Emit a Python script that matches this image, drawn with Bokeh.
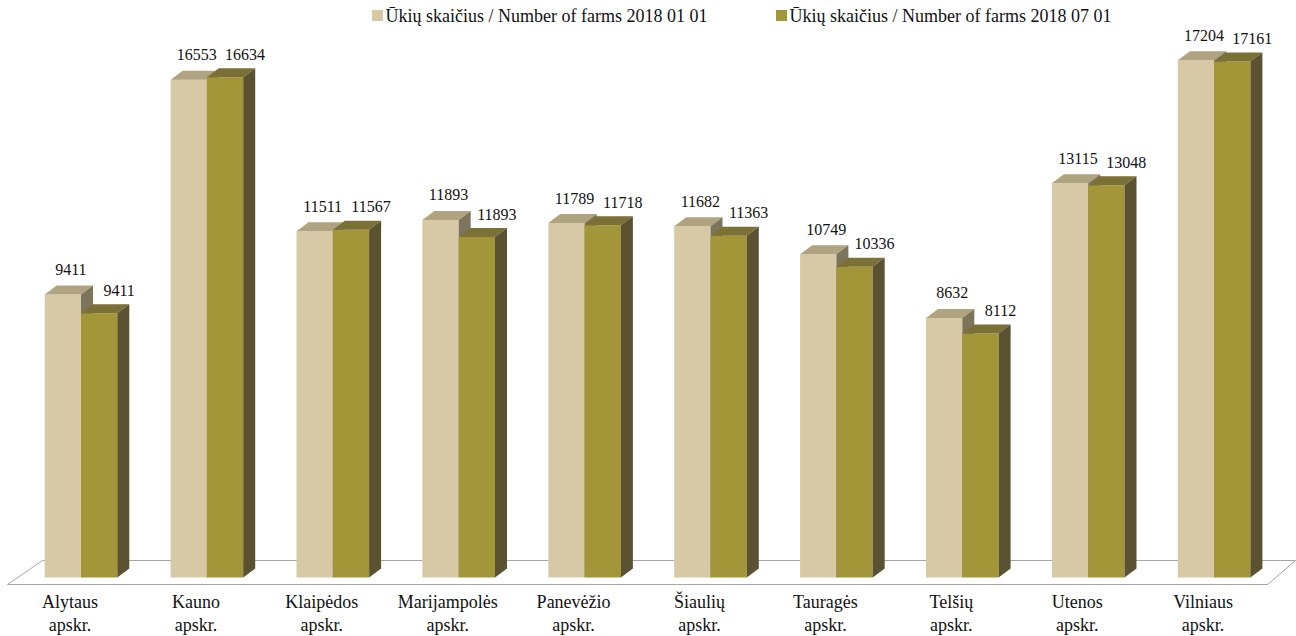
from bokeh.plotting import figure
from bokeh.models import Range1d
from bokeh.core.properties import value
from bokeh.embed import file_html
from bokeh.resources import INLINE

# ---------------- data ----------------
categories = ["Alytaus apskr.", "Kauno apskr.", "Klaipėdos apskr.", "Marijampolės apskr.",
              "Panevėžio apskr.", "Šiaulių apskr.", "Tauragės apskr.", "Telšių apskr.",
              "Utenos apskr.", "Vilniaus apskr."]
series_names = ["Ūkių skaičius / Number of farms 2018 01 01",
                "Ūkių skaičius / Number of farms 2018 07 01"]
farms_2018_01 = [9411, 16553, 11511, 11893, 11789, 11682, 10749, 8632, 13115, 17204]
farms_2018_07 = [9411, 16634, 11567, 11893, 11718, 11363, 10336, 8112, 13048, 17161]
# heights of the 07 01 bars as drawn in the picture (two differ from their labels)
bars_2018_07 = [8790, 16634, 11567, 11320, 11718, 11363, 10336, 8112, 13048, 17161]

# ---------------- styling ----------------
FONT = value("Liberation Serif")
front_cols = ["#D7C9A6", "#A29638"]
top_cols = ["#B0A380", "#7B7036"]
side_cols = ["#7C755C", "#5A5230"]

W, H = 1296, 636
ORIGIN = 0              # picture pixel of the canvas' top-left corner
PX_PER_CAT = 125.9
X0_PAGE = 80.5          # picture x of the first group centre
FLOOR_PAGE = 577.0      # picture y of value 0 (front)
PX_PER_UNIT = 0.03007   # pixels per farm


def xd(px):
    return (px - X0_PAGE) / PX_PER_CAT


def yd(py):
    return (FLOOR_PAGE - py) / PX_PER_UNIT


p = figure(width=W, height=H, output_backend="svg", toolbar_location=None,
           x_range=Range1d(xd(ORIGIN), xd(ORIGIN + W)), y_range=Range1d(yd(ORIGIN + H), yd(ORIGIN)),
           min_border=0, outline_line_color=None, background_fill_color="white",
           border_fill_color="white")
p.axis.visible = False
p.grid.visible = False

# floor (parallelogram)
floor_x = [xd(7), xd(1267), xd(1295), xd(42)]
floor_y = [yd(584), yd(584), yd(560), yd(560)]
p.patch(floor_x, floor_y, fill_color="white", line_color="#A6A6A6", line_width=1)

bw = 36.3 / PX_PER_CAT        # bar width in category units
ddx = 12 / PX_PER_CAT         # depth offset x
ddy = 9 / PX_PER_UNIT         # depth offset y (value units)

poly_x, poly_y, poly_c = [], [], []
for i in range(len(categories)):
    for s, heights in enumerate([farms_2018_01, bars_2018_07]):
        h = heights[i]
        xl = i - bw + s * bw
        xr = xl + bw
        poly_x.append([xl, xr, xr, xl]); poly_y.append([0, 0, h, h]); poly_c.append(front_cols[s])
        poly_x.append([xl, xr, xr + ddx, xl + ddx]); poly_y.append([h, h, h + ddy, h + ddy]); poly_c.append(top_cols[s])
        poly_x.append([xr, xr + ddx, xr + ddx, xr]); poly_y.append([0, ddy, h + ddy, h]); poly_c.append(side_cols[s])

p.patches(poly_x, poly_y, fill_color=poly_c, line_color=None)

# value labels
idx = list(range(len(categories)))
p.text(x=[i - bw / 2 for i in idx], y=farms_2018_01, text=[str(v) for v in farms_2018_01],
       x_offset=8, y_offset=-25, text_font=FONT, text_font_size="16px",
       text_align="center", text_baseline="middle", text_color="#111111")
p.text(x=[i + bw / 2 for i in idx], y=bars_2018_07, text=[str(v) for v in farms_2018_07],
       x_offset=20, y_offset=-23, text_font=FONT, text_font_size="16px",
       text_align="center", text_baseline="middle", text_color="#111111")

# category labels (two lines)
line1 = [c.rsplit(" ", 1)[0] for c in categories]
line2 = [c.rsplit(" ", 1)[1] for c in categories]
p.text(x=idx, y=[yd(601)] * len(idx), text=line1, x_offset=-11, text_font=FONT,
       text_font_size="18px", text_align="center", text_baseline="middle", text_color="#111111")
p.text(x=idx, y=[yd(624)] * len(idx), text=line2, x_offset=-11, text_font=FONT,
       text_font_size="18px", text_align="center", text_baseline="middle", text_color="#111111")

# legend (manual)
leg_x = [xd(377), xd(781)]
p.rect(x=leg_x, y=[yd(15)] * 2, width=11, height=11, width_units="screen", height_units="screen",
       fill_color=front_cols, line_color=None)
p.text(x=[xd(385), xd(789)], y=[yd(15)] * 2, text=series_names, text_font=FONT,
       text_font_size="18px", text_align="left", text_baseline="middle", text_color="#111111")

open("out.html", "w").write(file_html(p, INLINE))
